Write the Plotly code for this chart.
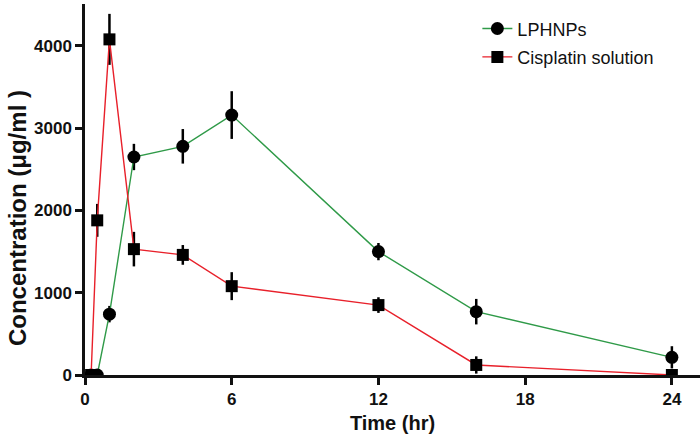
import plotly.graph_objects as go

time_lp = [0.25, 0.5, 1, 2, 4, 6, 12, 16, 24]
conc_lp = [0, 0, 740, 2650, 2780, 3160, 1500, 770, 215]
err_lp = [0, 0, 100, 160, 210, 290, 105, 155, 135]

time_cs = [0.25, 0.5, 1, 2, 4, 6, 12, 16, 24]
conc_cs = [0, 1880, 4080, 1530, 1460, 1080, 850, 122, 0]
err_cs = [0, 200, 310, 210, 120, 170, 95, 105, 40]

x_ticks = [0, 6, 12, 18, 24]
y_ticks = [0, 1000, 2000, 3000, 4000]

fig = go.Figure()
fig.add_trace(go.Scatter(
    x=time_lp, y=conc_lp, name="LPHNPs", mode="lines+markers",
    line=dict(color="#2f9a48", width=1.4),
    marker=dict(symbol="circle", size=13, color="black"),
    error_y=dict(type="data", array=err_lp, color="black", thickness=2.5, width=0),
    legendgroup="a",
))
fig.add_trace(go.Scatter(
    x=time_cs, y=conc_cs, name="Cisplatin solution", mode="lines+markers",
    line=dict(color="#e8202a", width=1.4),
    marker=dict(symbol="square", size=12, color="black"),
    error_y=dict(type="data", array=err_cs, color="black", thickness=2.5, width=0),
    legendgroup="b",
))

font_main = "Liberation Sans, Arial, sans-serif"
fig.update_layout(
    width=700, height=438,
    margin=dict(l=85, r=0, t=4, b=63),
    paper_bgcolor="white", plot_bgcolor="white",
    font=dict(family=font_main, color="#111"),
    legend=dict(x=0.638, y=0.983, xanchor="left", yanchor="top",
                font=dict(size=18, family=font_main, color="#111"),
                bgcolor="rgba(0,0,0,0)", traceorder="grouped", tracegroupgap=2),
    xaxis=dict(range=[0, 25.15], tickvals=x_ticks, ticks="outside", ticklen=7, tickwidth=2.5,
               showline=True, linewidth=2.5, linecolor="#111", tickcolor="#111",
               showgrid=False, zeroline=False, automargin=False,
               tickfont=dict(size=17, family=font_main, weight="bold"),
               title=dict(text="<b>Time (hr)</b>", font=dict(size=20), standoff=8)),
    yaxis=dict(range=[0, 4510], tickvals=y_ticks, ticks="outside", ticklen=7, tickwidth=2.5,
               showline=True, linewidth=2.5, linecolor="#111", tickcolor="#111",
               showgrid=False, zeroline=False, automargin=False,
               tickfont=dict(size=17, family=font_main, weight="bold")),
    annotations=[dict(text="<b>Concentration (μg/ml )</b>", textangle=-90,
                      xref="paper", yref="paper", x=-0.1106, y=0.423,
                      xanchor="center", yanchor="middle", showarrow=False,
                      font=dict(size=24, family=font_main, color="#111"))],
)
fig.write_html("out.html", config={"displayModeBar": False},
               post_script="document.body.style.margin='0px';")
